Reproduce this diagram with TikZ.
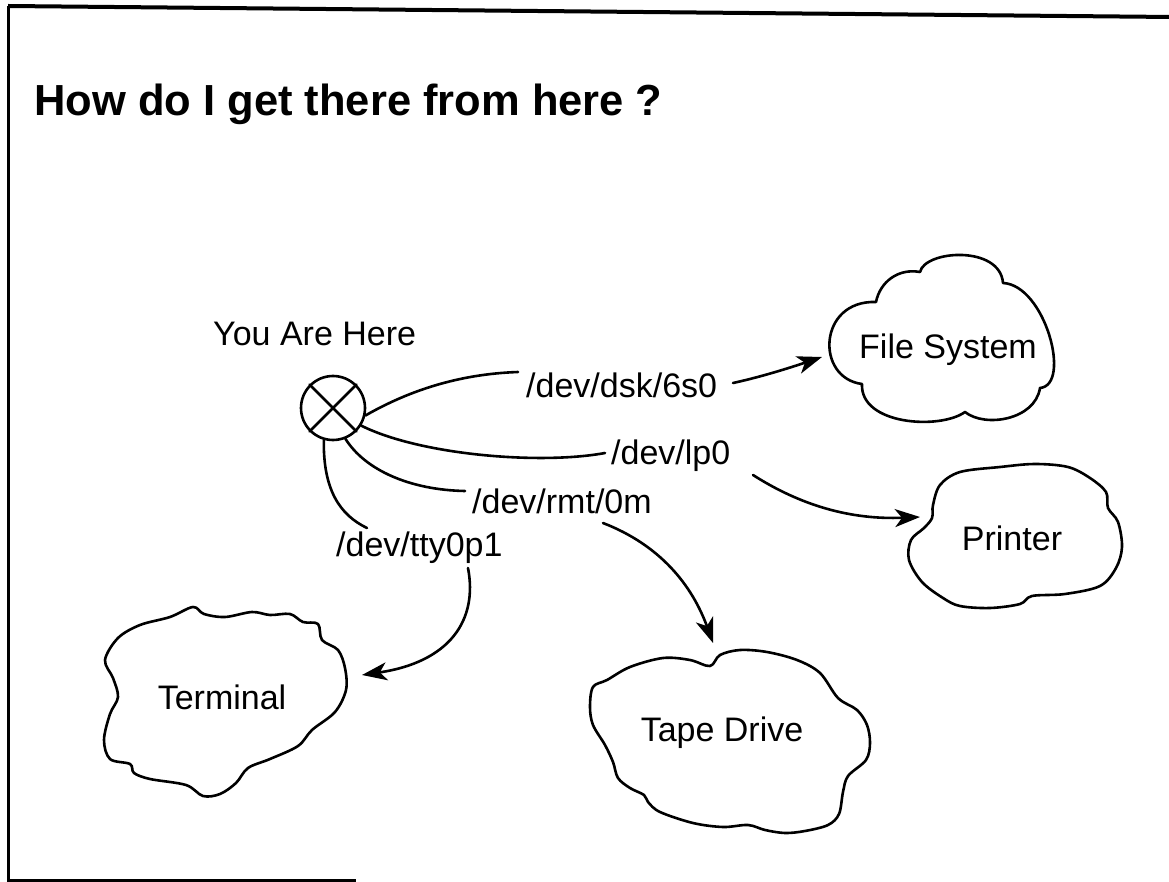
\documentclass[tikz,border=0pt]{standalone}
\usepackage{fontspec}
\setmainfont{Liberation Sans}
\usetikzlibrary{arrows.meta}
\begin{document}
\begin{tikzpicture}[x=1pt,y=-1pt,
  wire/.style={line width=2.6pt, line cap=round},
  arrowline/.style={wire, -{Stealth[length=25pt,width=18pt,inset=7pt]}},
  devlabel/.style={font=\fontsize{34}{40}\selectfont, inner sep=0pt, anchor=base west},
  cloudtext/.style={font=\fontsize{34}{40}\selectfont, inner sep=0pt},
  blob/.style={line width=2.6pt, line join=round},
  here/.style={circle, draw, line width=2.6pt, minimum size=64pt, inner sep=0pt}]
\useasboundingbox (0,0) rectangle (1169,882);

% page frame: top, left and a short piece of the bottom
\draw[line width=4pt] (8,6) -- (1172,17);
\draw[line width=3pt] (8,6) -- (8,884);
\draw[line width=3pt] (8,880) -- (356,880);

% title
\node[anchor=base west, inner sep=0pt, font=\bfseries\fontsize{43.5}{50}\selectfont] (title) at (34,116) {How do I get there from here ?};

% current position marker
\node[devlabel] (youlbl) at (213,345) {You Are Here};
\node[here] (you) at (333,408) {};
\draw[wire] (you.45) -- (you.225);
\draw[wire] (you.135) -- (you.315);

% device names
\node[devlabel] (dsk) at (526,397) {/dev/dsk/6s0};
\node[devlabel] (lp) at (611,464) {/dev/lp0};
\node[devlabel] (rmt) at (472,513) {/dev/rmt/0m};
\node[devlabel] (tty) at (336,556) {/dev/tty0p1};

% destinations
\node[cloudtext] (fs) at (948,350) {File System};
\node[cloudtext] (prn) at (1012,538) {Printer};
\node[cloudtext] (tape) at (722,733) {Tape Drive};
\node[cloudtext] (term) at (222,697) {Terminal};

% File System cloud
\draw[blob] (862,384) .. controls (815,378) and (818,300) .. (876,302)
  .. controls (880,282) and (898,268) .. (920,272)
  .. controls (925,250) and (1000,245) .. (1003,283)
  .. controls (1045,285) and (1072,385) .. (1040,388)
  .. controls (1035,420) and (985,428) .. (965,412)
  .. controls (940,430) and (860,425) .. cycle;

% Printer cloud
\draw[blob] plot[smooth cycle, tension=0.55] coordinates {
  (933,505) (940,485) (960,472) (1000,467) (1035,464) (1068,467) (1090,478)
  (1106,492) (1108,508) (1118,522) (1122,547) (1116,568) (1100,586) (1065,594)
  (1032,596) (1020,604) (990,608) (960,606) (943,598) (922,582) (909,560)
  (911,540) (924,528) (932,518)};

% Tape Drive cloud
\draw[blob] plot[smooth cycle, tension=0.55] coordinates {
  (593,687) (607,680) (630,667) (663,658) (690,660) (710,666) (720,655)
  (740,650) (767,652) (797,660) (820,673) (838,698) (857,710) (867,725)
  (870,743) (866,760) (848,776) (843,792) (839,814) (828,825) (805,831)
  (785,833) (765,830) (748,825) (723,827) (693,823) (660,812) (648,802)
  (644,795) (630,788) (618,778) (613,762) (605,745) (593,725) (590,707)};

% Terminal cloud
\draw[blob] plot[smooth cycle, tension=0.55] coordinates {
  (105,660) (118,638) (140,625) (170,617) (193,607) (204,614) (225,617)
  (252,612) (270,615) (290,614) (303,622) (318,624) (322,640) (338,650)
  (345,668) (346,690) (335,712) (312,730) (298,746) (270,759) (248,768)
  (236,783) (220,794) (203,796) (186,785) (150,779) (134,773) (130,764)
  (110,759) (104,740) (110,714) (118,697) (113,678)};

% connector end points
\coordinate (dskin) at (518,372);
\coordinate (dskout) at (733,383);
\coordinate (fsin) at (822,357);
\coordinate (lpin) at (605,453);
\coordinate (lpout) at (753,475);
\coordinate (prnin) at (920,517);
\coordinate (rmtin) at (465,491);
\coordinate (rmtout) at (603,523);
\coordinate (tapein) at (713,643);
\coordinate (ttyin) at (367,528);
\coordinate (ttyout) at (468,568);
\coordinate (termin) at (362,675);

% routes from the marker to each device name
\draw[wire] (you.-13) .. controls (410,390) and (460,374) .. (dskin);
\draw[wire] (you.-32) .. controls (420,455) and (540,465) .. (lpin);
\draw[wire] (you.-68) .. controls (365,470) and (410,490) .. (rmtin);
\draw[wire] (you.-106) .. controls (323,490) and (340,515) .. (ttyin);

% from each device name on to its destination
\draw[arrowline] (dskout) .. controls (765,376) and (795,366) .. (fsin);
\draw[arrowline] (lpout) .. controls (800,505) and (850,520) .. (prnin);
\draw[arrowline] (rmtout) .. controls (660,545) and (692,585) .. (tapein);
\draw[arrowline] (ttyout) .. controls (478,620) and (450,662) .. (termin);
\end{tikzpicture}
\end{document}
